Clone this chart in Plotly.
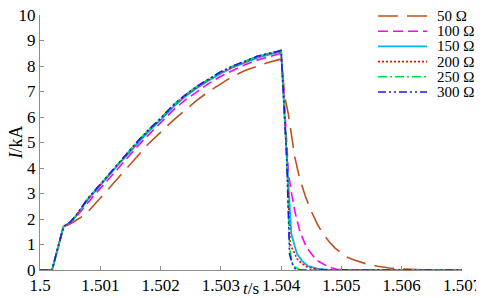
import plotly.graph_objects as go

# time axis, s
x_tickvals = [1.5, 1.501, 1.502, 1.503, 1.504, 1.505, 1.506, 1.507]
x_ticktext = ["1.5", "1.501", "1.502", "1.503", "1.504", "1.505", "1.506", "1.507"]
y_tickvals = [0, 1, 2, 3, 4, 5, 6, 7, 8, 9, 10]

# shared rising part (150-300 ohm follow almost the same path)
t_rise = [1.5, 1.5002, 1.50039, 1.5005, 1.5006, 1.5007, 1.5008, 1.5009, 1.501, 1.5011,
          1.5012, 1.5013, 1.5014, 1.5015, 1.5016, 1.5018, 1.502, 1.5022, 1.5024, 1.5026,
          1.5028, 1.503, 1.5032, 1.5034, 1.5036, 1.5038, 1.5039, 1.504]

i50_rise = [0, 0, 1.70, 1.80, 1.95, 2.10, 2.30, 2.55, 2.80, 3.08,
            3.35, 3.62, 3.90, 4.18, 4.45, 4.95, 5.40, 5.85, 6.25, 6.65,
            7.00, 7.30, 7.60, 7.82, 8.00, 8.15, 8.21, 8.27]
i100_rise = [0, 0, 1.70, 1.84, 2.08, 2.38, 2.68, 2.94, 3.20, 3.47,
             3.75, 4.02, 4.27, 4.55, 4.80, 5.30, 5.77, 6.25, 6.65, 7.00,
             7.32, 7.60, 7.84, 8.05, 8.23, 8.38, 8.45, 8.50]
i150_rise = [0, 0, 1.70, 1.86, 2.12, 2.46, 2.78, 3.04, 3.32, 3.59,
             3.87, 4.14, 4.39, 4.66, 4.93, 5.43, 5.88, 6.37, 6.78, 7.13,
             7.43, 7.71, 7.94, 8.14, 8.32, 8.45, 8.51, 8.56]
i200_rise = [0, 0, 1.70, 1.87, 2.14, 2.49, 2.81, 3.07, 3.35, 3.62,
             3.90, 4.18, 4.43, 4.70, 4.97, 5.47, 5.92, 6.42, 6.82, 7.17,
             7.47, 7.75, 7.97, 8.17, 8.35, 8.48, 8.54, 8.58]
i250_rise = [0, 0, 1.70, 1.88, 2.15, 2.50, 2.83, 3.09, 3.37, 3.64,
             3.92, 4.20, 4.45, 4.72, 5.00, 5.50, 5.95, 6.45, 6.85, 7.20,
             7.50, 7.78, 8.00, 8.20, 8.38, 8.50, 8.56, 8.62]
i300_rise = [0, 0, 1.70, 1.88, 2.15, 2.50, 2.83, 3.09, 3.37, 3.64,
             3.92, 4.20, 4.45, 4.72, 5.00, 5.50, 5.95, 6.45, 6.85, 7.20,
             7.50, 7.78, 8.00, 8.20, 8.38, 8.50, 8.56, 8.61]

# falling part, one per resistance
t50_fall = [1.50403, 1.50406, 1.50412, 1.50415, 1.50419, 1.50422, 1.50426, 1.5043, 1.5044,
            1.5045, 1.5046, 1.5047, 1.5048, 1.5049, 1.505, 1.5051, 1.5052, 1.5054, 1.5056,
            1.5058, 1.506, 1.5062, 1.5065, 1.507]
i50_fall = [7.60, 6.80, 6.10, 5.70, 5.00, 4.50, 4.10, 3.65, 2.90,
            2.30, 1.80, 1.40, 1.10, 0.85, 0.65, 0.50, 0.40, 0.25, 0.15,
            0.08, 0.04, 0.02, 0.0, 0.0]
t100_fall = [1.50404, 1.50408, 1.50412, 1.50418, 1.50423, 1.50431, 1.50442, 1.50459, 1.50478,
             1.50492, 1.5051, 1.507]
i100_fall = [7.20, 5.40, 3.80, 2.90, 2.27, 1.52, 0.88, 0.38, 0.13,
             0.03, 0.0, 0.0]
t150_fall = [1.50409, 1.50417, 1.50426, 1.50435, 1.50445, 1.5046, 1.5048, 1.507]
i150_fall = [4.60, 1.40, 0.65, 0.35, 0.15, 0.05, 0.0, 0.0]
t200_fall = [1.50409, 1.50415, 1.50428, 1.50442, 1.5046, 1.5048, 1.507]
i200_fall = [4.60, 1.00, 0.38, 0.13, 0.03, 0.0, 0.0]
t250_fall = [1.50409, 1.50414, 1.50418, 1.5042, 1.5043, 1.5044, 1.507]
i250_fall = [4.60, 0.90, 0.30, 0.15, 0.02, 0.0, 0.0]
t300_fall = [1.50409, 1.50414, 1.5042, 1.50425, 1.507]
i300_fall = [4.55, 0.60, 0.15, 0.0, 0.0]

labels = ["50 Ω", "100 Ω", "150 Ω", "200 Ω", "250 Ω", "300 Ω"]
colors = ["#C0501A", "#FF00FF", "#00B4F0", "#FF0000", "#00E040", "#1A1AF0"]
dashes = ["20px,9px", "10px,5px", "solid", "2px,2px", "9px,3px,2px,3px", "8px,3px,2px,3px,2px,3px"]
widths = [1.6, 1.6, 1.8, 1.6, 1.6, 1.6]

series = [
    (t_rise + t50_fall, i50_rise + i50_fall),
    (t_rise + t100_fall, i100_rise + i100_fall),
    (t_rise + t150_fall, i150_rise + i150_fall),
    (t_rise + t200_fall, i200_rise + i200_fall),
    (t_rise + t250_fall, i250_rise + i250_fall),
    (t_rise + t300_fall, i300_rise + i300_fall),
]

FONT = "Liberation Serif"
# the page body adds an 8px offset, so the figure is sized to sit inside the window
OFF = 8
W, H = 484 - OFF, 298 - OFF
ML, MR, MT, MB = 40 - OFF, 22, 7, 28
PW, PH = W - ML - MR, H - MT - MB


def px_x(px):
    # window pixel -> paper fraction
    return (px - OFF - ML) / PW


def px_y(py):
    return (H - MB - (py - OFF)) / PH


fig = go.Figure()
for (t, i), name, color, dash, w in zip(series, labels, colors, dashes, widths):
    fig.add_trace(go.Scatter(x=t, y=i, mode="lines", name=name,
                             line=dict(color=color, dash=dash, width=w)))

# compact legend: line sample + label per row
for k, (name, color, dash, w) in enumerate(zip(labels, colors, dashes, widths)):
    row_y = px_y(16 + 15.2 * k)
    fig.add_shape(type="line", xref="paper", yref="paper", x0=px_x(378), x1=px_x(427),
                  y0=row_y, y1=row_y, line=dict(color=color, dash=dash, width=w))
    fig.add_annotation(text=name, xref="paper", yref="paper", x=px_x(435), y=row_y,
                       xanchor="left", yanchor="middle", showarrow=False,
                       font=dict(family=FONT, size=15, color="black"))

axis_style = dict(showline=True, linecolor="#8c8c8c", linewidth=1, ticks="inside",
                  ticklen=4, tickcolor="#8c8c8c", showgrid=False, zeroline=False,
                  automargin=False, ticklabeloverflow="allow",
                  tickfont=dict(family=FONT, size=17, color="black"))

fig.update_xaxes(range=[1.5, 1.507], tickvals=x_tickvals, ticktext=x_ticktext, **axis_style)
fig.update_yaxes(range=[0, 10], tickvals=y_tickvals, **axis_style)

fig.add_annotation(text="<i>t</i>/s", xref="paper", yref="paper", x=0.5, y=0,
                   yanchor="middle", yshift=-18, showarrow=False,
                   font=dict(family=FONT, size=17, color="black"))
fig.add_annotation(text="<i>I</i>/kA", xref="paper", yref="paper", x=0, y=0.5,
                   xanchor="center", xshift=-25, textangle=-90, showarrow=False,
                   font=dict(family=FONT, size=18, color="black"))

fig.update_layout(
    width=W, height=H,
    margin=dict(l=ML, r=MR, t=MT, b=MB),
    plot_bgcolor="white", paper_bgcolor="white",
    font=dict(family=FONT, size=17, color="black"),
    showlegend=False,
)

fig.write_html("out.html")
